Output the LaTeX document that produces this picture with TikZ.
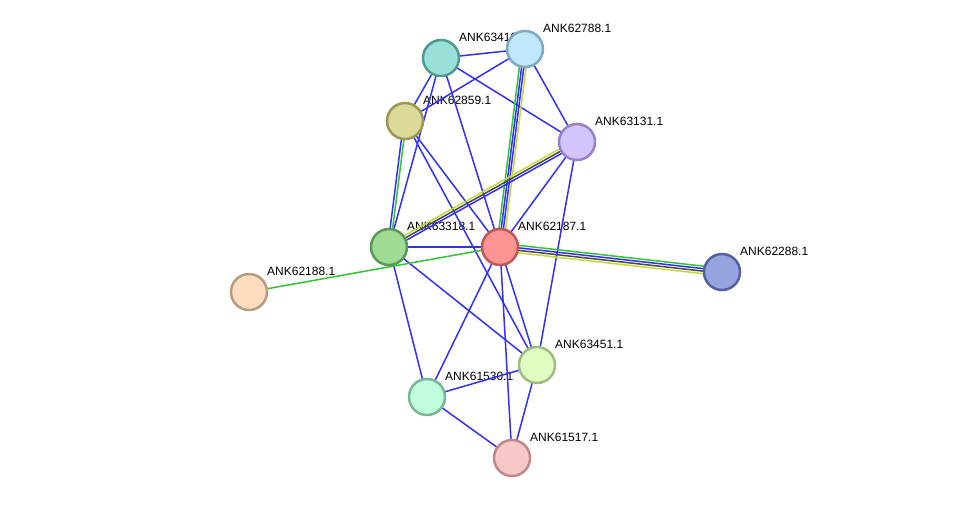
\documentclass[tikz,border=0pt]{standalone}
\usepackage{fontspec}
\setmainfont{Liberation Sans}
\usetikzlibrary{calc}
\definecolor{eblue}{HTML}{3030FF}
\definecolor{egreen}{HTML}{33C433}
\definecolor{eyellow}{HTML}{C4D838}
\definecolor{eblack}{HTML}{484848}
\tikzset{
  prot/.style={circle, minimum size=36pt, inner sep=0pt, line width=2.5pt},
  lbl/.style={anchor=west, inner sep=0pt, font=\fontsize{12}{14}\selectfont},
  edge/.style={line width=1.5pt},
}
\newcommand{\pedge}[4]{\draw[edge,#4] ($(#1.center)!#3!90:(#2.center)$) -- ($(#2.center)!#3!-90:(#1.center)$);}
\begin{document}
\begin{tikzpicture}[x=1pt,y=1pt]
\useasboundingbox[fill=white] (0,0) rectangle (976,-504);
% node coordinates
\coordinate (p63410) at (441,-58);
\coordinate (p62788) at (525,-49);
\coordinate (p62859) at (405,-121);
\coordinate (p63131) at (577,-142);
\coordinate (p63318) at (389,-247);
\coordinate (p62187) at (500,-247);
\coordinate (p62288) at (722,-272);
\coordinate (p62188) at (249,-292);
\coordinate (p63451) at (537,-365);
\coordinate (p61530) at (427,-397);
\coordinate (p61517) at (512,-458);
% labels
\foreach \n/\t in {63410/ANK63410.1, 62788/ANK62788.1, 62859/ANK62859.1, 63131/ANK63131.1, 63318/ANK63318.1, 62187/ANK62187.1, 62288/ANK62288.1, 62188/ANK62188.1, 63451/ANK63451.1, 61530/ANK61530.1, 61517/ANK61517.1}
  \node[lbl] (l\n) at ($(p\n)+(18,21)$) {\t};
% single blue edges
\foreach \a/\b in {63410/62788, 63410/62859, 63410/63318, 63410/62187, 63410/63131,
  62788/62859, 62788/63131, 62859/62187, 62859/63451, 63131/62187, 63131/63451,
  63318/62187, 63318/63451, 63318/61530, 62187/61530, 62187/63451, 62187/61517,
  61530/63451, 61530/61517, 63451/61517}
  \draw[edge,eblue] (p\a) -- (p\b);
% single green
\draw[edge,egreen] (p62188) -- (p62187);
% multi edges
\pedge{p62187}{p62288}{3.75pt}{egreen}
\pedge{p62187}{p62288}{1.25pt}{eblue}
\pedge{p62187}{p62288}{-1.25pt}{eblack}
\pedge{p62187}{p62288}{-3.75pt}{eyellow}
\pedge{p62788}{p62187}{-3.3pt}{egreen}
\pedge{p62788}{p62187}{-1.1pt}{eblue}
\pedge{p62788}{p62187}{1.1pt}{eblue}
\pedge{p62788}{p62187}{3.3pt}{eyellow}
\pedge{p63131}{p63318}{-2.5pt}{eyellow}
\pedge{p63131}{p63318}{0pt}{eblack}
\pedge{p63131}{p63318}{2.5pt}{eblue}
\pedge{p62859}{p63318}{-1.25pt}{eblue}
\pedge{p62859}{p63318}{1.25pt}{egreen}
% nodes
\node[prot, fill={rgb,255:red,152;green,224;blue,216}, draw={rgb,255:red,78;green,154;blue,144}] (n63410) at (p63410) {};
\node[prot, fill={rgb,255:red,192;green,232;blue,250}, draw={rgb,255:red,128;green,168;blue,192}] (n62788) at (p62788) {};
\node[prot, fill={rgb,255:red,220;green,218;blue,152}, draw={rgb,255:red,154;green,152;blue,80}] (n62859) at (p62859) {};
\node[prot, fill={rgb,255:red,212;green,196;blue,252}, draw={rgb,255:red,152;green,128;blue,200}] (n63131) at (p63131) {};
\node[prot, fill={rgb,255:red,160;green,220;blue,148}, draw={rgb,255:red,90;green,154;blue,88}] (n63318) at (p63318) {};
\node[prot, fill={rgb,255:red,252;green,148;blue,148}, draw={rgb,255:red,192;green,88;blue,88}] (n62187) at (p62187) {};
\node[prot, fill={rgb,255:red,152;green,164;blue,224}, draw={rgb,255:red,84;green,96;blue,160}] (n62288) at (p62288) {};
\node[prot, fill={rgb,255:red,253;green,220;blue,192}, draw={rgb,255:red,184;green,156;blue,128}] (n62188) at (p62188) {};
\node[prot, fill={rgb,255:red,224;green,252;blue,192}, draw={rgb,255:red,160;green,188;blue,128}] (n63451) at (p63451) {};
\node[prot, fill={rgb,255:red,192;green,252;blue,220}, draw={rgb,255:red,120;green,184;blue,152}] (n61530) at (p61530) {};
\node[prot, fill={rgb,255:red,248;green,200;blue,200}, draw={rgb,255:red,192;green,136;blue,136}] (n61517) at (p61517) {};
\end{tikzpicture}
\end{document}
